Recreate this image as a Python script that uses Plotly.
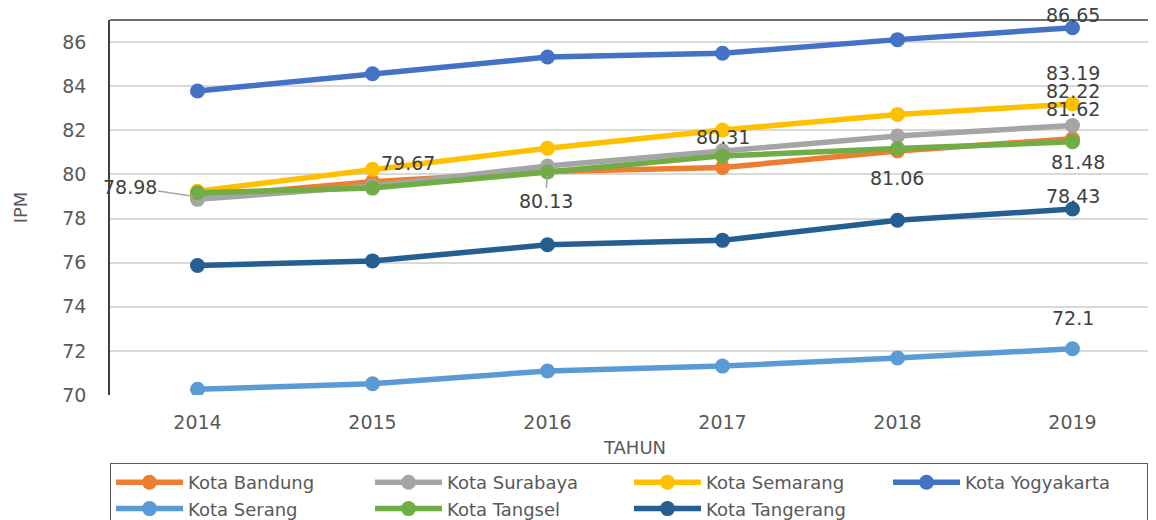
import plotly.graph_objects as go

years = ["2014", "2015", "2016", "2017", "2018", "2019"]
bandung = [78.98, 79.67, 80.13, 80.31, 81.06, 81.62]
surabaya = [78.87, 79.47, 80.38, 81.07, 81.74, 82.22]
semarang = [79.24, 80.23, 81.19, 82.01, 82.72, 83.19]
yogyakarta = [83.78, 84.56, 85.32, 85.49, 86.11, 86.65]
serang = [70.26, 70.51, 71.09, 71.31, 71.68, 72.10]
tangsel = [79.17, 79.38, 80.11, 80.84, 81.17, 81.48]
tangerang = [75.87, 76.08, 76.81, 77.01, 77.92, 78.43]

names = ["Kota Bandung", "Kota Surabaya", "Kota Semarang", "Kota Yogyakarta",
         "Kota Serang", "Kota Tangsel", "Kota Tangerang"]
series = [bandung, surabaya, semarang, yogyakarta, serang, tangsel, tangerang]
colors = ["#ED7D31", "#A5A5A5", "#FFC000", "#4472C4", "#5B9BD5", "#70AD47", "#255E91"]

FONT = "DejaVu Sans"
TXT = "#404040"
AX = "#595959"

fig = go.Figure()
for n, s, c in zip(names, series, colors):
    fig.add_trace(go.Scatter(
        x=years, y=s, name=n, mode="lines+markers",
        line=dict(color=c, width=5.5),
        marker=dict(color=c, size=15),
    ))

def fmt(v):
    return f"{v:g}"

# Bandung labels (xshift, yshift, arrow)
band_offsets = [(-68, 10, True), (35, 19, False), (-2, -29, True),
                (0, 31, False), (-1, -27, False), (0, 30, False)]
for i, (dx, dy, arrow) in enumerate(band_offsets):
    if arrow:
        fig.add_annotation(x=i, y=bandung[i], xref="x", yref="y",
                           text=fmt(bandung[i]), showarrow=True, arrowhead=0,
                           arrowwidth=1.5, arrowcolor="#A6A6A6",
                           ax=dx, ay=-dy, standoff=4,
                           font=dict(family=FONT, size=19, color=TXT))
    else:
        fig.add_annotation(x=i, y=bandung[i], xref="x", yref="y",
                           text=fmt(bandung[i]), showarrow=False,
                           xshift=dx, yshift=dy,
                           font=dict(family=FONT, size=19, color=TXT))

end_labels = [(yogyakarta, 0, 13), (semarang, 0, 31), (surabaya, 0, 34),
              (tangsel, 5, -20), (tangerang, 0, 13), (serang, 0, 31)]
for s, dx, dy in end_labels:
    fig.add_annotation(x=len(years) - 1, y=s[-1], xref="x", yref="y",
                       text=fmt(s[-1]), showarrow=False, xshift=dx, yshift=dy,
                       font=dict(family=FONT, size=19, color=TXT))

fig.update_layout(
    width=1156, height=520,
    margin=dict(l=102, r=4, t=12, b=133, autoexpand=False),
    plot_bgcolor="white", paper_bgcolor="white",
    font=dict(family=FONT, color=AX, size=18),
    showlegend=True,
    legend=dict(
        orientation="h", x=0, xanchor="left",
        yref="container", y=1 - 455 / 520, yanchor="top",
        entrywidth=177, entrywidthmode="pixels",
        bordercolor="#595959", borderwidth=1,
        font=dict(family=FONT, size=18, color=AX),
        traceorder="normal", itemwidth=67, tracegroupgap=0,
    ),
    xaxis=dict(
        type="category",
        range=[-0.5, 5.5], showgrid=False, zeroline=False,
        showline=False, ticks="", ticklabelstandoff=14, automargin=False,
        tickfont=dict(family=FONT, size=19, color=AX),
        title=dict(text="TAHUN", standoff=9,
                   font=dict(family=FONT, size=18, color=AX)),
    ),
    yaxis=dict(
        range=[70, 87], dtick=2, tick0=70,
        showgrid=True, gridcolor="#D9D9D9", gridwidth=1.5,
        zeroline=False, showline=True, linecolor="#404040", linewidth=1.5,
        ticks="", ticklabelstandoff=18, automargin=False,
        tickfont=dict(family=FONT, size=19, color=AX),
        title=dict(text="IPM", standoff=30,
                   font=dict(family=FONT, size=18, color=AX)),
    ),
    shapes=[dict(type="line", xref="paper", yref="paper", x0=0, x1=1, y0=1, y1=1,
                 line=dict(color="#404040", width=1.5))],
)

fig.write_html("out.html")
